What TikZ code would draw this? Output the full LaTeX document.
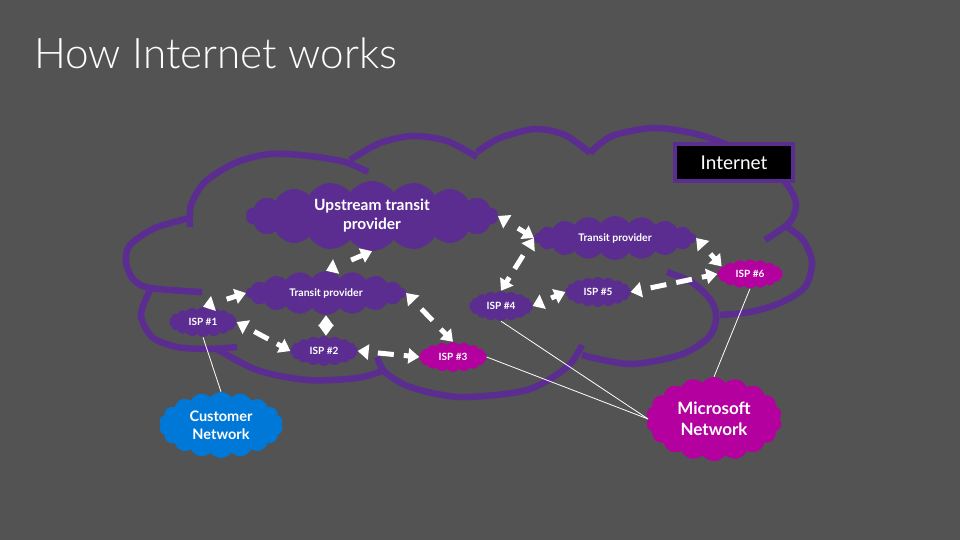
\documentclass[tikz,border=0pt]{standalone}
\usepackage{fontspec}
\setmainfont{Lato}
\IfFontExistsTF{Lato Light}{\newfontfamily\titlefont{Lato Light}}{\newfontfamily\titlefont{Lato}}
\usetikzlibrary{shapes.symbols,arrows.meta,calc,decorations}
\definecolor{bg}{HTML}{535353}
\definecolor{mspurple}{HTML}{5C2D91}
\definecolor{msmag}{HTML}{B4009E}
\definecolor{msblue}{HTML}{0078D7}
\tikzset{
  outline/.style={draw=mspurple, line width=6.5pt},
  pcloud/.style={cloud, cloud puffs=18, cloud puff arc=110, cloud ignores aspect,
    fill=mspurple, draw=none, text=white, inner sep=0pt, align=center, font=\bfseries},
  magcloud/.style={pcloud, fill=msmag},
  bluecloud/.style={pcloud, fill=msblue},
  warrow/.style={draw=white, line width=5pt,
    {Triangle[length=11pt,width=15pt]}-{Triangle[length=11pt,width=15pt]},
    dash pattern=on 16pt off 8pt, dash expand off},
  thin/.style={draw=white, line width=0.8pt},
  isp/.style={minimum width=68pt, minimum height=30pt, font=\bfseries\fontsize{10}{12}\selectfont}
}
\begin{document}
\begin{tikzpicture}[x=1pt,y=-1pt]
\fill[bg] (0,0) rectangle (960,540);
\useasboundingbox (0,0) rectangle (960,540);

% title
\node[anchor=base west, text=white, inner sep=0pt, font=\titlefont\fontsize{42.2}{50}\selectfont] (title) at (34,68.5) {How Internet works};

% big internet cloud outline
\draw[outline] plot[smooth] coordinates {(190,227) (191,205) (205,182) (235,163) (270,154) (310,156) (345,162) (368,172)};
\draw[outline] plot[smooth] coordinates {(350,160) (380,143) (413,136) (447,141) (477,157)};
\draw[outline] plot[smooth] coordinates {(477,152) (500,138) (535,129) (565,135) (590,153)};
\draw[outline] plot[smooth] coordinates {(590,153) (612,136) (655,128) (700,135) (740,150)};
\draw[outline] plot[smooth] coordinates {(770,170) (786,183) (796,203) (790,222) (765,240)};
\draw[outline] plot[smooth] coordinates {(787,227) (803,240) (812,262) (805,287) (780,303) (750,312) (720,315)};
\draw[outline] plot[smooth] coordinates {(667,272) (693,283) (712,302) (716,320) (708,338) (680,355) (630,364) (582,355)};
\draw[outline] plot[smooth] coordinates {(377,357) (385,372) (410,387) (460,397) (527,390) (567,367) (582,345)};
\draw[outline] plot[smooth] coordinates {(215,348) (257,370) (307,380) (357,378) (385,370)};
\draw[outline] plot[smooth] coordinates {(150,290) (141,315) (152,337) (177,347) (210,349) (237,347)};
\draw[outline] plot[smooth] coordinates {(190,218) (155,228) (130,245) (126,262) (133,279) (150,288) (202,292)};

% Internet label
\node[draw=mspurple, line width=4pt, fill=black, minimum width=118pt, minimum height=37pt,
  text=white, font=\fontsize{19}{22}\selectfont] (inet) at (734,162.5) {Internet};

% clouds
\node[pcloud, minimum width=252pt, minimum height=70pt, font=\bfseries\fontsize{15.5}{19}\selectfont] (up) at (372,216) {Upstream transit\\provider};
\node[pcloud, minimum width=160pt, minimum height=44pt, font=\bfseries\fontsize{10.5}{12}\selectfont] (tl) at (326,293) {Transit provider};
\node[pcloud, minimum width=162pt, minimum height=44pt, font=\bfseries\fontsize{10.5}{12}\selectfont] (tr) at (615,238) {Transit provider};
\node[pcloud, isp] (isp1) at (203,322) {ISP \#1};
\node[pcloud, isp] (isp2) at (324,351) {ISP \#2};
\node[magcloud, isp] (isp3) at (453,357) {ISP \#3};
\node[pcloud, isp, minimum width=64pt] (isp4) at (501,306) {ISP \#4};
\node[pcloud, isp, minimum width=66pt] (isp5) at (598,292) {ISP \#5};
\node[magcloud, isp, minimum width=66pt, minimum height=29pt] (isp6) at (750,274) {ISP \#6};
\node[bluecloud, minimum width=124pt, minimum height=66pt, font=\bfseries\fontsize{14.5}{18}\selectfont] (cust) at (221,425) {Customer\\Network};
\node[magcloud, minimum width=136pt, minimum height=84pt, font=\bfseries\fontsize{17}{21}\selectfont] (ms) at (714,419) {Microsoft\\Network};

% arrows
\draw[warrow] (tl.north) -- (up.south);
\draw[warrow] (isp1.north) -- (tl.west);
\draw[warrow] (isp1.east) -- (isp2.west);
\draw[warrow] (tl.south) -- (tl.south |- isp2.north);
\draw[warrow] (isp2.east) -- (isp3.west);
\draw[warrow] (tl.east) -- (isp3.north);
\draw[warrow] (up.east) -- (tr.west);
\draw[warrow] (tr.west) -- (isp4.north);
\draw[warrow] (isp4.east) -- (isp5.west);
\draw[warrow] (isp5.east) -- (isp6.west);
\draw[warrow] (tr.east) -- (isp6.165);

% thin links
\draw[thin] (isp1.south) -- (cust.north);
\draw[thin] (isp3.east) -- (ms.west);
\draw[thin] (isp4.south) -- (ms.west);
\draw[thin] (isp6.south) -- (ms.north);
\end{tikzpicture}
\end{document}
